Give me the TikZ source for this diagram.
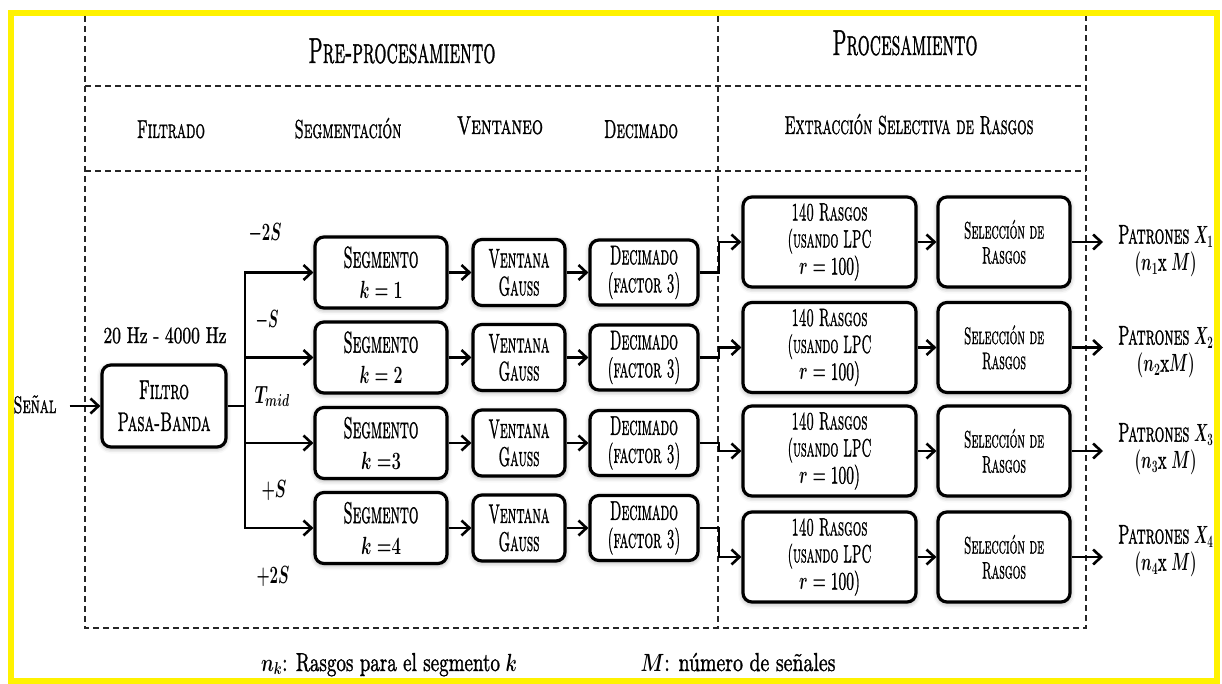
\documentclass[tikz,border=0pt]{standalone}
\usepackage{graphicx}
\usetikzlibrary{arrows.meta,shadows.blur}

% squeeze a piece of text to a given width (pt), keeping its height
\newcommand\fitw[2]{\resizebox{#1pt}{\height}{#2}}
\newcommand\fs[1]{\fontsize{#1}{#1}\selectfont}
% slightly heavier Latin Modern: small caps, roman and math
\newcommand\SC[2]{{\font\tmpf="[lmromancaps10-regular.otf]:embolden=1.4" at #1pt\tmpf #2}}
\newcommand\RM[2]{{\font\tmpf="[lmroman10-regular.otf]:embolden=1.4" at #1pt\tmpf #2}}
\newcommand\M[1]{{\boldmath$#1$}}

\begin{document}
\begin{tikzpicture}[x=1pt,y=-1pt,
  blk/.style={draw=black, line width=3.2pt, rounded corners=9pt, fill=white,
    align=center, inner sep=0pt,
    blur shadow={shadow xshift=0pt, shadow yshift=-1.5pt,
      shadow blur radius=5pt, shadow opacity=40}},
  conn/.style={line width=2.6pt},
  arr/.style={conn, -{Straight Barb[length=8pt,width=15pt]}},
  sep/.style={line width=1.6pt, dash pattern=on 6pt off 4pt, black!85},
  lbl/.style={inner sep=0pt, anchor=base},
  segbox/.style={blk, minimum width=132pt, minimum height=71pt, font=\fontsize{30}{31}\selectfont},
  winbox/.style={blk, minimum width=92pt, minimum height=66pt, font=\fontsize{27}{28}\selectfont},
  decbox/.style={blk, minimum width=108pt, minimum height=65pt, font=\fontsize{27}{28}\selectfont},
  featbox/.style={blk, minimum width=173pt, minimum height=90pt, font=\fontsize{25}{27}\selectfont},
  selbox/.style={blk, minimum width=132pt, minimum height=90pt, font=\fontsize{24}{25}\selectfont},
  outlbl/.style={anchor=west, inner xsep=15pt, inner ysep=0pt, align=center, font=\fontsize{27}{27}\selectfont},
]
\useasboundingbox (0,0) rectangle (1222,684);

% outer frame
\draw[yellow, line width=6pt] (10.5,13) rectangle (1216.5,681);

% dashed stage grid
\draw[sep] (85,16) -- (85,628) -- (1086,628) -- (1086,16);
\draw[sep] (718,16) -- (718,628);
\draw[sep] (85,86) -- (1086,86);
\draw[sep] (85,171) -- (1086,171);

% stage headers
\node[lbl] (hpre) at (402,63) {\fitw{187}{\SC{36}{Pre-procesamiento}}};
\node[lbl] (hpro) at (905,55) {\fitw{145}{\SC{36}{Procesamiento}}};
\node[lbl] (hfil) at (171,138) {\fitw{68}{\SC{26}{Filtrado}}};
\node[lbl] (hseg) at (348,138) {\fitw{107}{\SC{26}{Segmentación}}};
\node[lbl] (hven) at (500,134) {\fitw{86}{\SC{26}{Ventaneo}}};
\node[lbl] (hdec) at (641,138) {\fitw{74}{\SC{26}{Decimado}}};
\node[lbl] (hext) at (909,134) {\fitw{249}{\SC{26}{Extracción Selectiva de Rasgos}}};

% input and band-pass filter
\node[lbl] (senal) at (35,413) {\fitw{43}{\SC{24}{Señal}}};
\node[blk, minimum width=124pt, minimum height=82pt, font=\fontsize{27}{32}\selectfont] (filt) at (164,406)
  {\fitw{50}{\SC{27}{Filtro}}\\\fitw{93}{\SC{27}{Pasa-Banda}}};
\node[lbl] (band) at (165,343) {\fitw{123}{\RM{23}{20 Hz - 4000 Hz}}};

% segment offsets
\node[lbl] (m2s) at (265,241) {\fitw{33}{\fs{25}\M{-2S}}};
\node[lbl] (m1s) at (267,327) {\fitw{23}{\fs{25}\M{-S}}};
\node[lbl] (tmid) at (272,403) {\fitw{35}{\fs{25}\M{T_{mid}}}};
\node[lbl] (p1s) at (274,497) {\fitw{25}{\fs{25}\M{+S}}};
\node[lbl] (p2s) at (273,583) {\fitw{33}{\fs{25}\M{+2S}}};

% segment chains
\node[segbox] (s1) at (381,272.5) {\fitw{75}{\SC{30}{Segmento}}\\\fitw{43}{\M{k = 1}}};
\node[segbox] (s2) at (381,357.5) {\fitw{75}{\SC{30}{Segmento}}\\\fitw{43}{\M{k = 2}}};
\node[segbox] (s3) at (381,443) {\fitw{75}{\SC{30}{Segmento}}\\\fitw{40}{\M{k\;{=}3}}};
\node[segbox] (s4) at (381,528) {\fitw{75}{\SC{30}{Segmento}}\\\fitw{40}{\M{k\;{=}4}}};

\foreach \i/\y in {1/272.5,2/357.5,3/443,4/528}{
  \node[winbox] (w\i) at (519,\y) {\fitw{61}{\SC{27}{Ventana}}\\\fitw{41}{\SC{27}{Gauss}}};
  \node[decbox] (d\i) at (644,\y) {\fitw{68}{\SC{27}{Decimado}}\\\fitw{73}{\SC{27}{(factor 3)}}};
}

\foreach \i/\y in {1/242,2/347.5,3/451,4/557}{
  \node[featbox] (f\i) at (829.5,\y) {\fitw{76}{\SC{25}{140 Rasgos}}\\\fitw{84}{\SC{25}{(usando LPC}}\\\fitw{61}{\M{r =}\ \RM{25}{100)}}};
  \node[selbox] (c\i) at (1004,\y) {\fitw{80}{\SC{24}{Selección de}}\\\fitw{44}{\SC{24}{Rasgos}}};
}

% output patterns
\node[outlbl] (o1) at (1103,251) {\fitw{95}{\SC{27}{Patrones} \M{X_1}}\\\fitw{62}{\M{(n_1}\RM{27}{x} \M{M)}}};
\node[outlbl] (o2) at (1103,352) {\fitw{95}{\SC{27}{Patrones} \M{X_2}}\\\fitw{58}{\M{(n_2}\RM{27}{x}\M{M)}}};
\node[outlbl] (o3) at (1103,449) {\fitw{95}{\SC{27}{Patrones} \M{X_3}}\\\fitw{62}{\M{(n_3}\RM{27}{x} \M{M)}}};
\node[outlbl] (o4) at (1103,551) {\fitw{95}{\SC{27}{Patrones} \M{X_4}}\\\fitw{62}{\M{(n_4}\RM{27}{x} \M{M)}}};

% notes
\node[lbl] (nk) at (389,671) {\fitw{256}{\fs{26}\M{n_k}\RM{26}{: Rasgos para el segmento} \M{k}}};
\node[lbl] (mm) at (738,671) {\fitw{195}{\fs{26}\M{M}\RM{26}{: número de señales}}};

% connectors
\coordinate (tx) at (245,0);
\coordinate (xs) at (719,0);
\draw[arr] ([xshift=13pt]senal.east |- filt.west) -- (filt.west);
\draw[conn] (filt.east) -- (filt.east -| tx);
\draw[conn, line cap=rect] (s1.west -| tx) -- (s4.west -| tx);
\foreach \i in {1,2,3,4}{
  \draw[arr] (s\i.west -| tx) -- (s\i.west);
  \draw[arr] (s\i) -- (w\i);
  \draw[arr] (w\i) -- (d\i);
  \draw[arr] (d\i.east) -- (d\i.east -| xs) |- (f\i.west);
  \draw[arr] (f\i) -- (c\i);
  \draw[arr] (c\i.east) -- (c\i.east -| o\i.west);
}
\end{tikzpicture}
\end{document}
